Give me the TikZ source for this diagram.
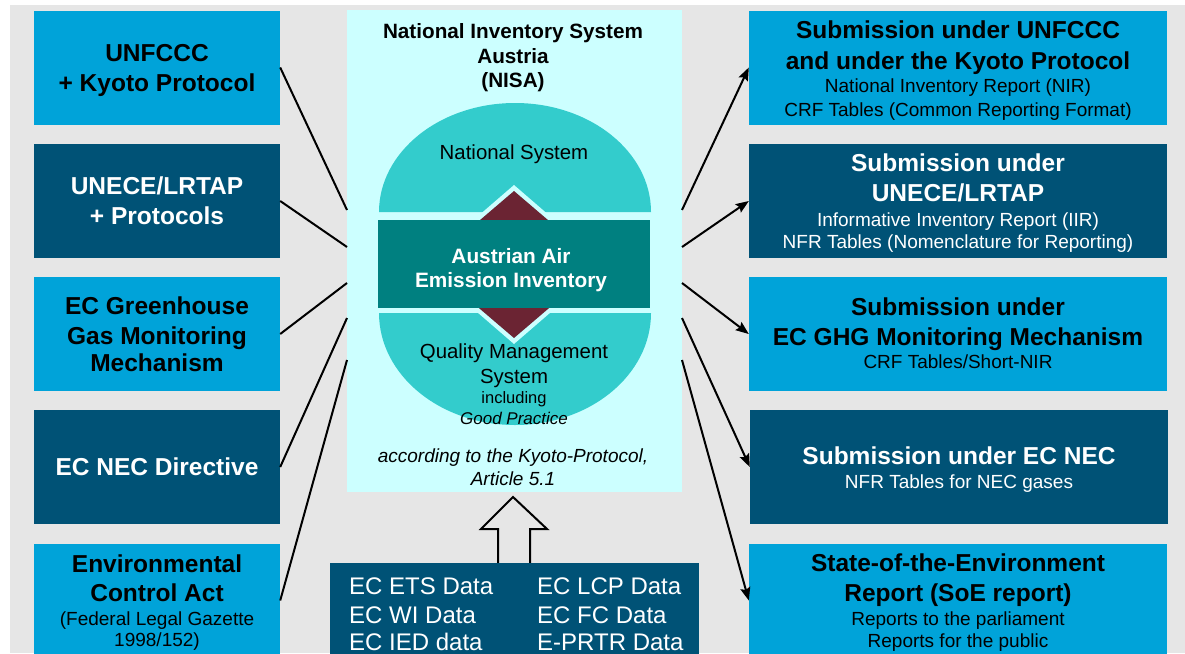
\documentclass[tikz,border=0pt]{standalone}
\usepackage{fontspec}
\setmainfont{Liberation Sans}
\usetikzlibrary{arrows.meta}
\definecolor{bg}{HTML}{E6E6E6}
\definecolor{lblue}{HTML}{00A3D9}
\definecolor{dblue}{HTML}{005276}
\definecolor{pan}{HTML}{CCFFFF}
\definecolor{tealA}{HTML}{33CCCC}
\definecolor{bandc}{HTML}{008080}
\definecolor{maroonA}{HTML}{6B2433}
\newcommand\fb{\fontsize{24.5}{30}\selectfont\bfseries}
\newcommand\fr{\fontsize{19}{22}\selectfont\mdseries}
\begin{document}
\begin{tikzpicture}[x=1pt,y=-1pt,
  box/.style={rectangle, inner sep=0pt, minimum width=246pt, minimum height=114pt},
  lb/.style={box, fill=lblue},
  db/.style={box, fill=dblue},
  rbox/.style={minimum width=418pt},
  txt/.style={inner sep=0pt, anchor=north, align=center, font=\fb},
  bt/.style={txt, text=black},
  wt/.style={txt, text=white},
  con/.style={line width=2pt},
  arr/.style={con, -{Stealth[length=13pt,width=10pt,inset=2pt]}},
  lbl/.style={inner sep=0pt, anchor=base},
  dat/.style={inner sep=0pt, anchor=base west, text=white, font=\fontsize{24}{28}\selectfont}
]
\useasboundingbox (0,0) rectangle (1185,653);
\clip (0,0) rectangle (1185,653);
\fill[bg] (10,5) rectangle (1185,653);

% left boxes
\node[lb] (L1) at (157,67.5) {};
\node[db] (L2) at (157,201) {};
\node[lb] (L3) at (157,334) {};
\node[db] (L4) at (157,467) {};
\node[lb] (L5) at (157,600.5) {};
\node[bt] (L1t) at (157,44) {UNFCCC\\+ Kyoto Protocol};
\node[wt] (L2t) at (157,177) {UNECE/LRTAP\\+ Protocols};
\node[bt] (L3t) at (157,297) {EC Greenhouse\\Gas Monitoring\\[-3pt]Mechanism};
\node[wt] (L4t) at (157,458) {EC NEC Directive};
\node[bt] (L5t) at (157,555) {Environmental\\[-1pt]Control Act\\[-6pt]{\fr (Federal Legal Gazette}\\[-9pt]{\fr 1998/152)}};

% right boxes
\node[lb,rbox] (R1) at (958,67.5) {};
\node[db,rbox] (R2) at (958,201) {};
\node[lb,rbox] (R3) at (958,334) {};
\node[db,rbox] (R4) at (959,467) {};
\node[lb,rbox] (R5) at (958,600.5) {};
\node[bt] (R1t) at (958,21) {Submission under UNFCCC\\[1pt]and under the Kyoto Protocol\\[-7pt]{\fr National Inventory Report (NIR)}\\[-6pt]{\fr CRF Tables (Common Reporting Format)}};
\node[wt] (R2t) at (958,154) {Submission under\\UNECE/LRTAP\\[-5pt]{\fr Informative Inventory Report (IIR)}\\[-8pt]{\fr NFR Tables (Nomenclature for Reporting)}};
\node[bt] (R3t) at (958,298) {Submission under\\EC GHG Monitoring Mechanism\\[-7pt]{\fr CRF Tables/Short-NIR}};
\node[wt] (R4t) at (959,447) {Submission under EC NEC\\[-6pt]{\fr NFR Tables for NEC gases}};
\node[bt] (R5t) at (958,554) {State-of-the-Environment\\Report (SoE report)\\[-6pt]{\fr Reports to the parliament}\\[-8pt]{\fr Reports for the public}};

% central panel
\node[fill=pan, minimum width=335pt, minimum height=482pt, inner sep=0pt] (P) at (514.5,251) {};
\fill[tealA] (379,212) arc[start angle=180, end angle=360, x radius=136, y radius=109] -- cycle;
\fill[tealA] (379,313) arc[start angle=180, end angle=0, x radius=136, y radius=112] -- cycle;
\fill[pan] (514,185) -- (606,264.5) -- (514,344) -- (422,264.5) -- cycle;
\fill[maroonA] (514,191) -- (600,264.5) -- (514,338) -- (428,264.5) -- cycle;
\fill[bandc] (378,220) rectangle (650,308);

\node[lbl, font=\fontsize{20.7}{24}\selectfont\bfseries] (t1) at (513,38) {National Inventory System};
\node[lbl, font=\fontsize{20.7}{24}\selectfont\bfseries] (t2) at (513,63.5) {Austria};
\node[lbl, font=\fontsize{20.7}{24}\selectfont\bfseries] (t3) at (513,87) {(NISA)};
\node[lbl, font=\fontsize{20.4}{24}\selectfont] (t4) at (514,159) {National System};
\node[lbl, font=\fontsize{20.8}{24}\selectfont\bfseries, text=white] (t5) at (511,263) {Austrian Air};
\node[lbl, font=\fontsize{20.8}{24}\selectfont\bfseries, text=white] (t6) at (511,287) {Emission Inventory};
\node[lbl, font=\fontsize{20.4}{24}\selectfont] (t7) at (514,358) {Quality Management};
\node[lbl, font=\fontsize{20.4}{24}\selectfont] (t8) at (514,383) {System};
\node[lbl, font=\fontsize{16.5}{20}\selectfont] (t9) at (514,403) {including};
\node[lbl, font=\fontsize{17}{20}\selectfont\itshape] (t10) at (514,424) {Good Practice};
\node[lbl, font=\fontsize{19}{22}\selectfont\itshape] (t11) at (513,462) {according to the Kyoto-Protocol,};
\node[lbl, font=\fontsize{19}{22}\selectfont\itshape] (t12) at (513,485) {Article 5.1};

% block arrow
\draw[line width=2pt, fill=bg, line join=miter] (513,497) -- (547,529) -- (530,529) -- (530,566) -- (498,566) -- (498,529) -- (481,529) -- cycle;

% bottom data box
\node[fill=dblue, minimum width=369pt, minimum height=110pt, inner sep=0pt, anchor=north west] (B) at (330,563) {};
\node[dat] (d1) at (349,594.5) {EC ETS Data};
\node[dat] (d2) at (349,623) {EC WI Data};
\node[dat] (d3) at (349,650) {EC IED data};
\node[dat] (d4) at (537,594.5) {EC LCP Data};
\node[dat] (d5) at (537,623) {EC FC Data};
\node[dat] (d6) at (537,650) {E-PRTR Data};

% connectors
\coordinate (pl1) at (347,210);
\coordinate (pl2) at (347,247);
\coordinate (pl3) at (347,283);
\coordinate (pl4) at (347,318);
\coordinate (pl5) at (347,360);
\coordinate (pr1) at (682,210);
\coordinate (pr2) at (682,247);
\coordinate (pr3) at (682,283);
\coordinate (pr4) at (682,318);
\coordinate (pr5) at (682,360);
\draw[con] (L1.east) -- (pl1);
\draw[con] (L2.east) -- (pl2);
\draw[con] (L3.east) -- (pl3);
\draw[con] (L4.east) -- (pl4);
\draw[con] (L5.east) -- (pl5);
\draw[arr] (pr1) -- (R1.west);
\draw[arr] (pr2) -- (R2.west);
\draw[arr] (pr3) -- (R3.west);
\draw[arr] (pr4) -- (R4.west);
\draw[arr] (pr5) -- (R5.west);
\end{tikzpicture}
\end{document}
